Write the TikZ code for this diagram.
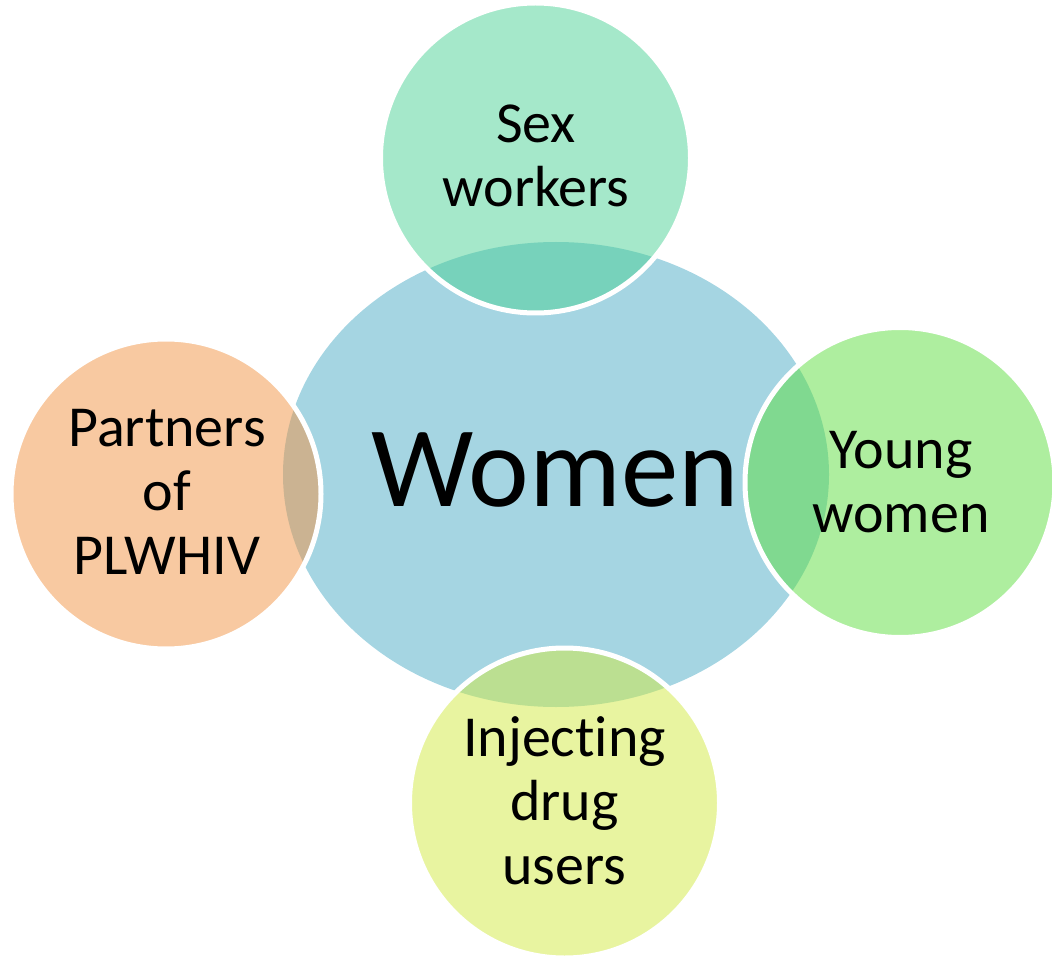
\documentclass[tikz,border=0pt]{standalone}
\usepackage{fontspec}
\setmainfont[Ligatures=NoCommon]{Carlito}
\usetikzlibrary{shapes.geometric}
\definecolor{corefill}{HTML}{A5D5E2}
\definecolor{sexfill}{RGB}{75,209,149}
\definecolor{youngfill}{RGB}{93,221,63}
\definecolor{injfill}{RGB}{209,233,65}
\definecolor{partfill}{RGB}{241,147,67}
\begin{document}
\begin{tikzpicture}[x=1pt,y=-1pt]
\tikzset{
  corebox/.style={ellipse, minimum width=546pt, minimum height=465pt, inner sep=0pt, fill=corefill},
  satbox/.style={circle, minimum size=310pt, inner sep=0pt, draw=white, line width=5pt, fill opacity=0.5},
  sattext/.style={align=center, text=black, font=\fontsize{58}{64}\selectfont},
  coretext/.style={text=black, font=\fontsize{115}{130}\selectfont}
}
\useasboundingbox (0,0) rectangle (1052,957);
\node[corebox] (core) at (556,474.5) {};
\node[coretext] (women) at (555,470) {Women};
\node[satbox, fill=sexfill] (sex) at (535.5,158) {};
\node[satbox, fill=youngfill] (young) at (900,482.5) {};
\node[satbox, fill=injfill] (inj) at (564.5,803) {};
\node[satbox, fill=partfill] (part) at (166,494) {};
\node[sattext] (sextxt) at (536,156) {Sex\\workers};
\node[sattext] (youngtxt) at (901,482) {Young\\women};
\node[sattext] (injtxt) at (564.5,801) {Injecting\\drug\\users};
\node[sattext] (parttxt) at (167,492) {Partners\\of\\PLWHIV};
\end{tikzpicture}
\end{document}
